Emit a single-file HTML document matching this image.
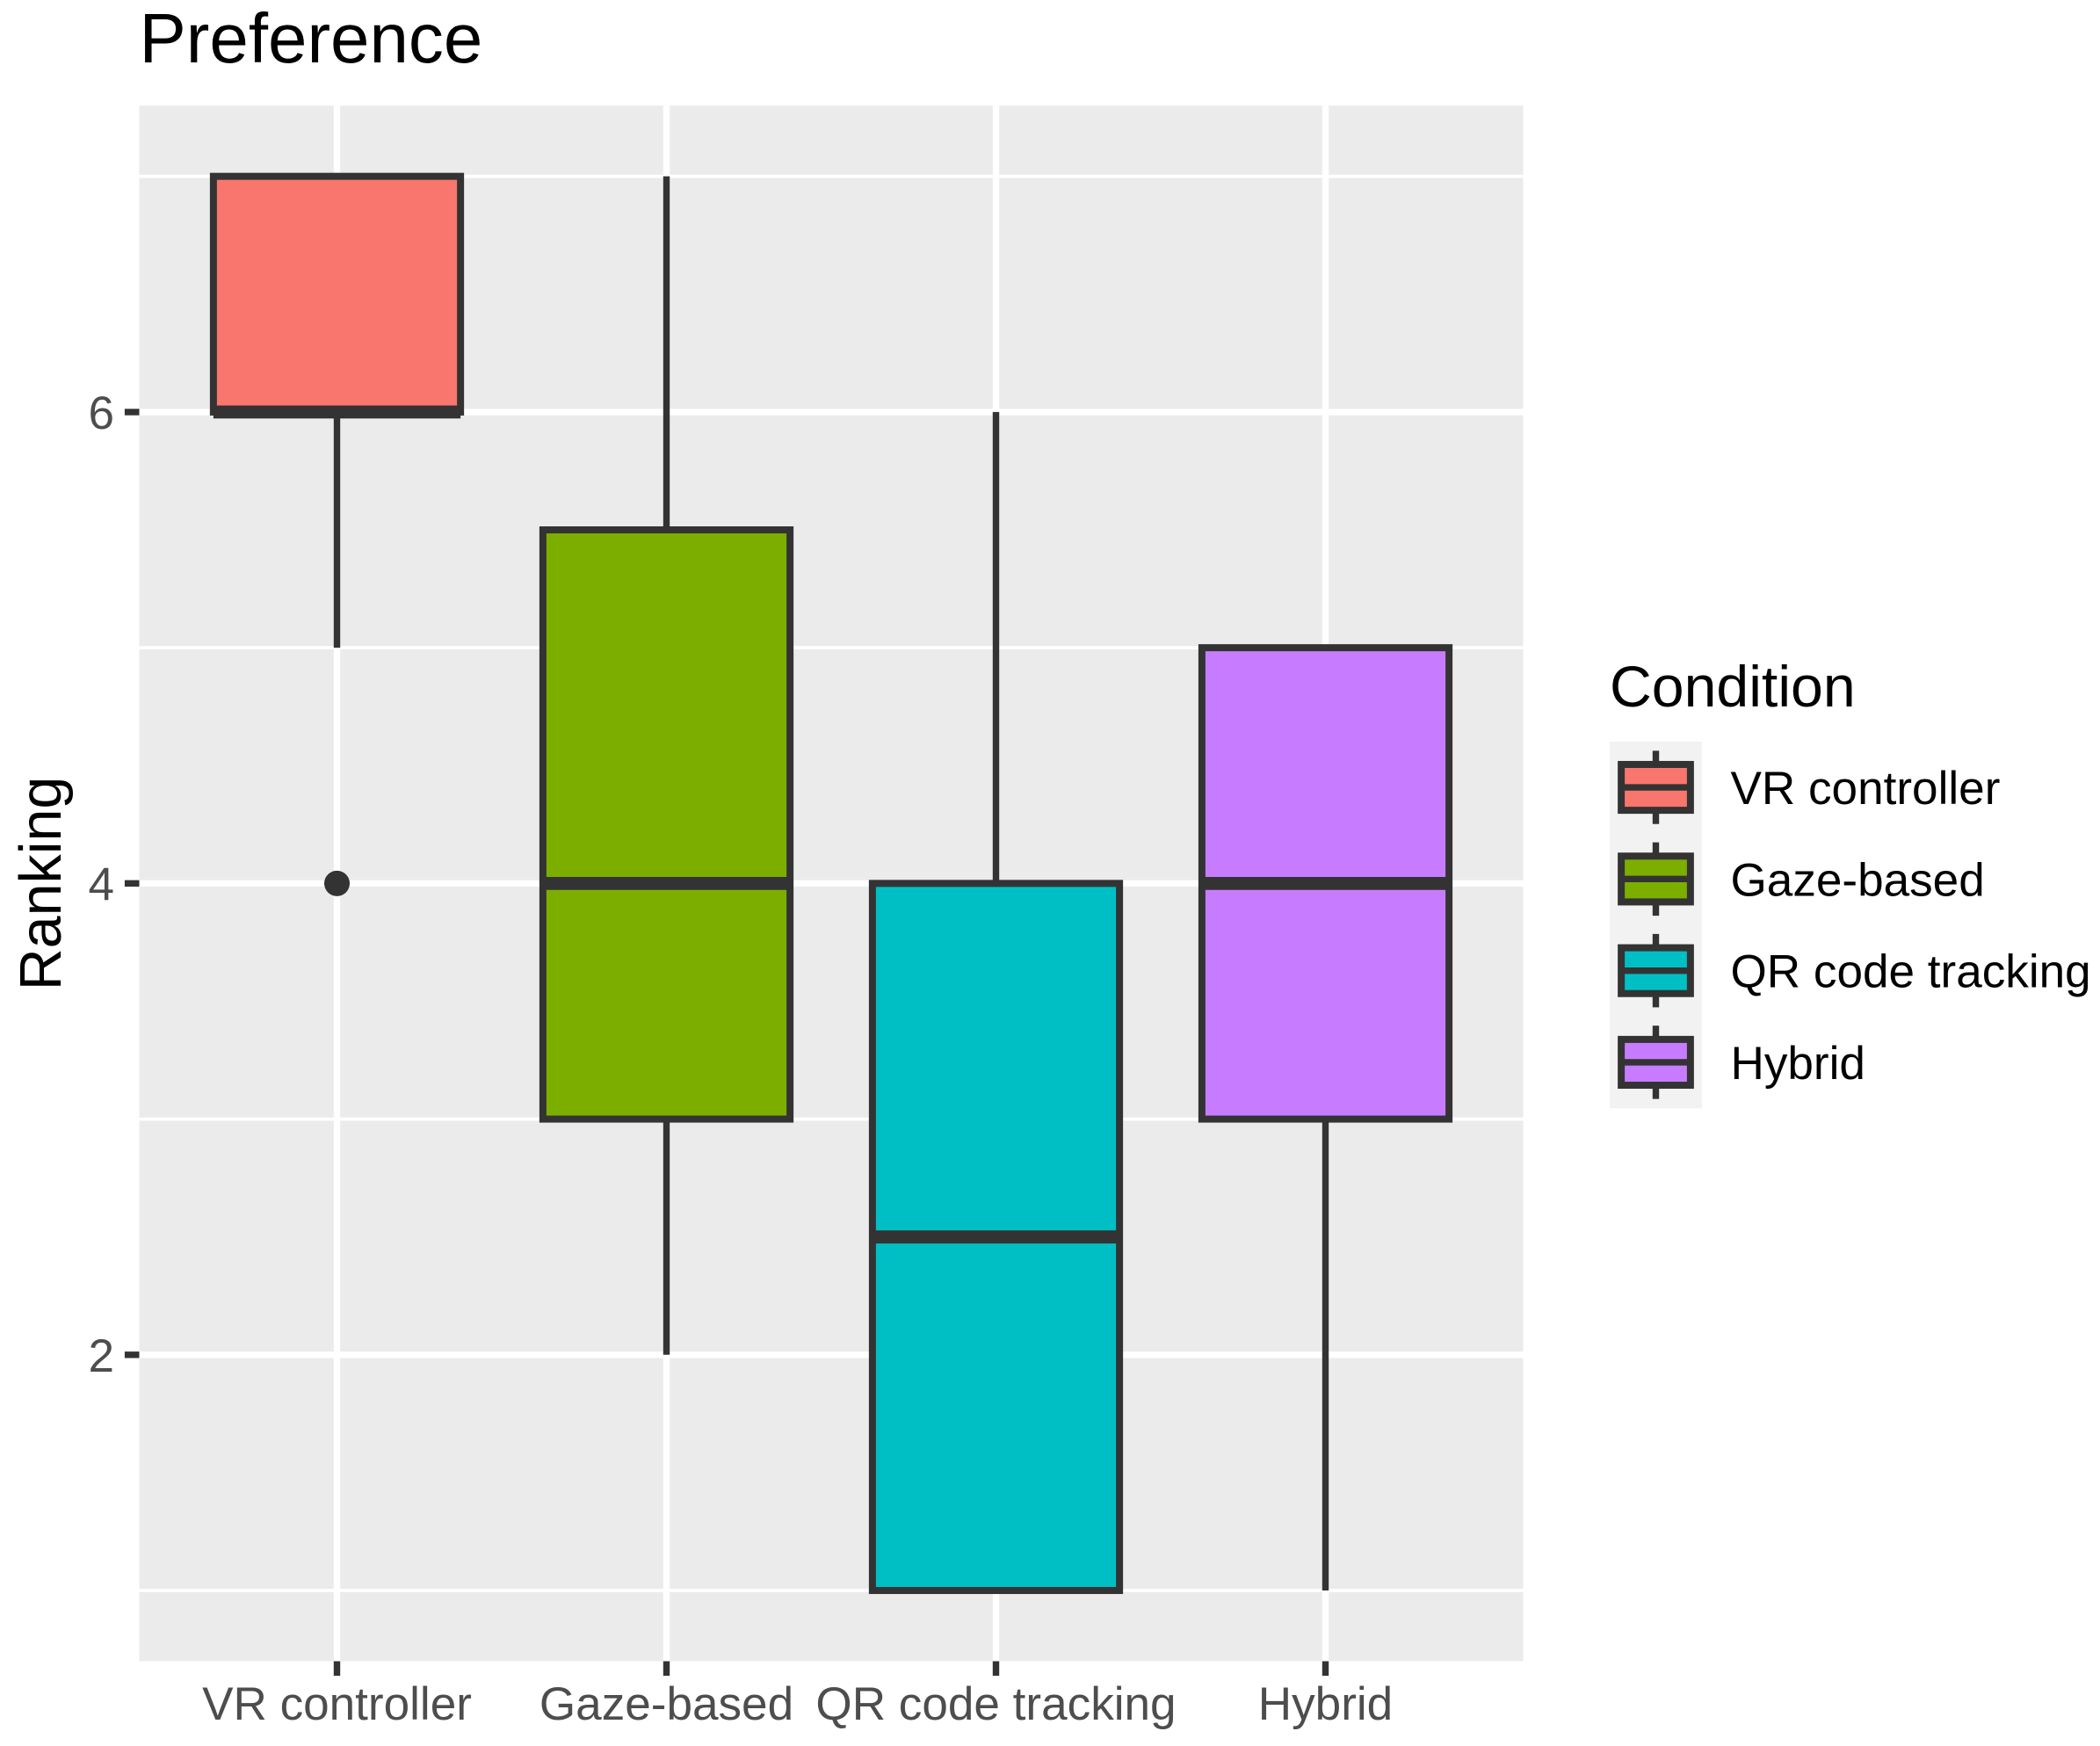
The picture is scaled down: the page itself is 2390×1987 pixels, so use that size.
<!DOCTYPE html>
<html lang="en">
<head>
<meta charset="utf-8">
<title>Preference boxplot</title>
<style>
html,body{margin:0;padding:0;background:#fff;width:2390px;height:1987px;overflow:hidden}
svg{display:block;position:absolute;left:0;top:0}
text{font-family:"Liberation Sans",Arial,sans-serif}
</style>
</head>
<body>
<svg id="chart" xmlns="http://www.w3.org/2000/svg" width="2390" height="1987" viewBox="0 0 2390 1987">
  <rect x="0" y="0" width="2390" height="1987" fill="#ffffff"/>
  <text x="158.5" y="71" font-size="79.9" fill="#000000">Preference</text>
  <text transform="translate(69,1005.5) rotate(-90)" text-anchor="middle" font-size="66.4" fill="#000000">Ranking</text>
  <text x="1832" y="804" font-size="66.2" fill="#000000">Condition</text>
  <g id="panel"></g>
  <g id="axes"></g>
  <g id="marks"></g>
  <g id="legend"></g>
</svg>
<script>
// Data
const categories = ['VR controller', 'Gaze-based', 'QR code tracking', 'Hybrid'];
const whiskerLow = [5, 2, 1, 1];
const quartile1 = [6, 3, 1, 3];
const medians = [6, 4, 2.5, 4];
const quartile3 = [7, 5.5, 4, 5];
const whiskerHigh = [7, 7, 6, 5];
const outliers = [[4], [], [], []];
const fillColors = ['#F8766D', '#7CAE00', '#00BFC4', '#C77CFF'];
const yTickLabels = [2, 4, 6];
const yMinorBreaks = [1, 3, 5, 7];

// Layout and axis functions
const NS = 'http://www.w3.org/2000/svg';
const plot = {left: 158.5, right: 1733.5, top: 120.2, bottom: 1890.5};
const yDomain = [0.7, 7.3];
const LINE = '#333333';
const STROKE = 7.4;
const BOX_STROKE = 8;

function xScale(i) {
  const step = (plot.right - plot.left) / (categories.length + 0.2);
  return plot.left + step * (i + 0.6);
}
const bandWidth = (plot.right - plot.left) / (categories.length + 0.2);
function yScale(v) {
  return plot.bottom - (v - yDomain[0]) / (yDomain[1] - yDomain[0]) * (plot.bottom - plot.top);
}
function make(parent, tag, attrs) {
  const el = document.createElementNS(NS, tag);
  for (const k of Object.keys(attrs)) el.setAttribute(k, attrs[k]);
  parent.appendChild(el);
  return el;
}
const slug = s => s.toLowerCase().replace(/[^a-z0-9]+/g, '-');

const panel = document.getElementById('panel');
const axes = document.getElementById('axes');
const marks = document.getElementById('marks');
const legend = document.getElementById('legend');

// Panel background
const panelBg = make(panel, 'rect', {x: plot.left, y: plot.top, width: plot.right - plot.left, height: plot.bottom - plot.top, fill: '#EBEBEB'});



// Gridlines
yMinorBreaks.forEach(v => {
  const g = make(panel, 'line', {x1: plot.left, x2: plot.right, y1: yScale(v), y2: yScale(v), stroke: '#ffffff', 'stroke-width': STROKE / 2});
  
  
});
yTickLabels.forEach(v => {
  const g = make(panel, 'line', {x1: plot.left, x2: plot.right, y1: yScale(v), y2: yScale(v), stroke: '#ffffff', 'stroke-width': STROKE});
  
  
});
categories.forEach((c, i) => {
  const g = make(panel, 'line', {x1: xScale(i), x2: xScale(i), y1: plot.top, y2: plot.bottom, stroke: '#ffffff', 'stroke-width': STROKE});
  
  
});

// Axis ticks and labels
yTickLabels.forEach(v => {
  const t = make(axes, 'line', {x1: plot.left - 16.6, x2: plot.left, y1: yScale(v), y2: yScale(v), stroke: LINE, 'stroke-width': STROKE});
  
  
  const l = make(axes, 'text', {x: 130, y: yScale(v) + 19, 'text-anchor': 'end', 'font-size': 53.1, fill: '#4D4D4D'});
  
  
  l.textContent = v;
});
categories.forEach((c, i) => {
  const t = make(axes, 'line', {x1: xScale(i), x2: xScale(i), y1: plot.bottom, y2: plot.bottom + 16.6, stroke: LINE, 'stroke-width': STROKE});
  
  
  const l = make(axes, 'text', {x: xScale(i), y: 1957, 'text-anchor': 'middle', 'font-size': 53.1, fill: '#4D4D4D'});
  
  
  l.textContent = c;
});

// Boxplots
categories.forEach((c, i) => {
  const cx = xScale(i);
  const half = bandWidth * 0.75 / 2;
  const name = slug(c);
  const upper = make(marks, 'line', {x1: cx, x2: cx, y1: yScale(whiskerHigh[i]), y2: yScale(quartile3[i]), stroke: LINE, 'stroke-width': STROKE});
  
  
  const lower = make(marks, 'line', {x1: cx, x2: cx, y1: yScale(quartile1[i]), y2: yScale(whiskerLow[i]), stroke: LINE, 'stroke-width': STROKE});
  
  
  const box = make(marks, 'rect', {x: cx - half, y: yScale(quartile3[i]), width: half * 2, height: yScale(quartile1[i]) - yScale(quartile3[i]), fill: fillColors[i], stroke: LINE, 'stroke-width': BOX_STROKE, 'stroke-linejoin': 'miter'});
  
  
  const med = make(marks, 'line', {x1: cx - half, x2: cx + half, y1: yScale(medians[i]), y2: yScale(medians[i]), stroke: LINE, 'stroke-width': STROKE * 2});
  
  
  outliers[i].forEach(v => {
    const p = make(marks, 'circle', {cx: cx, cy: yScale(v), r: 14.5, fill: LINE});
    
    
  });
});

// Legend
const keyLeft = 1832, keyTop = 843.9, keySize = 104.3, keyWidth = 105;
categories.forEach((c, i) => {
  const top = keyTop + i * keySize;
  const cx = keyLeft + keyWidth / 2;
  const cy = top + keySize / 2;
  const name = slug(c);
  const bg = make(legend, 'rect', {x: keyLeft, y: top, width: keyWidth, height: keySize + 0.2, fill: '#F2F2F2'});
  
  
  const w = make(legend, 'line', {x1: cx, x2: cx, y1: top + keySize * 0.1, y2: top + keySize * 0.9, stroke: LINE, 'stroke-width': STROKE});
  
  
  const b = make(legend, 'rect', {x: cx - keyWidth * 0.375, y: cy - keySize * 0.25, width: keyWidth * 0.75, height: keySize * 0.5, fill: fillColors[i], stroke: LINE, 'stroke-width': BOX_STROKE});
  
  
  const m = make(legend, 'line', {x1: cx - keyWidth * 0.375, x2: cx + keyWidth * 0.375, y1: cy, y2: cy, stroke: LINE, 'stroke-width': STROKE});
  
  
  const l = make(legend, 'text', {x: 1969.5, y: cy + 19, 'font-size': 53.1, fill: '#000000'});
  
  
  l.textContent = c;
});
</script>
</body>
</html>
